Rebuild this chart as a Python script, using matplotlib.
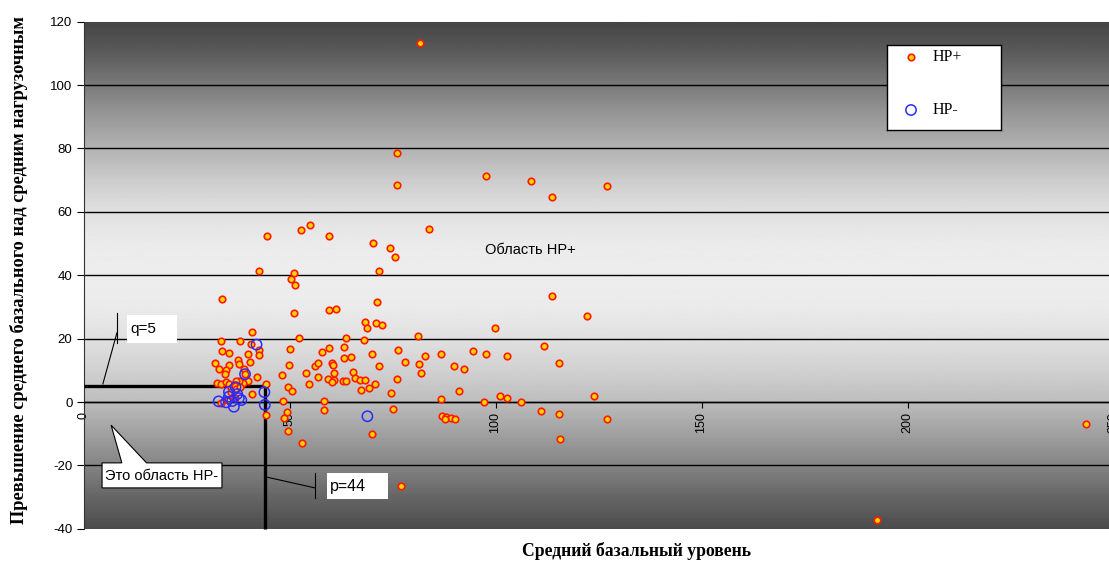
import numpy as np
import matplotlib.pyplot as plt
from matplotlib.patches import Polygon, Rectangle

# HP+ patients: mean basal level (x) and excess of mean basal over mean loaded level (y)
hp_pos_x = [81.6, 76.0, 76.0, 97.6, 108.5, 127.0, 113.6, 83.8, 54.9, 52.8, 44.6, 59.5,
            70.3, 74.4, 75.6, 42.7, 51.1, 50.3, 51.4, 71.7, 33.5, 71.2, 113.6, 51.0,
            59.5, 61.2, 122.1, 68.2, 68.7, 71.0, 72.5, 99.8, 40.9,
            33.3, 37.9, 52.3, 63.6, 68.1, 81.3, 111.7, 40.6,
            42.6, 42.6, 33.7, 35.4, 39.9, 50.1, 59.6, 57.8, 63.2, 69.9, 76.3, 82.8,
            65.0, 63.3, 86.8, 94.6, 97.6, 102.8, 115.5,
            37.5, 37.8, 40.5, 32.0, 35.4, 49.8, 56.1, 57.0, 60.4, 60.6, 71.6, 78.0,
            81.4, 89.9, 92.3,
            32.8, 34.5, 34.4, 39.0, 39.2, 48.1, 54.1, 56.8, 60.8, 65.5, 81.9, 42.1,
            59.3, 60.9, 60.4, 62.9, 63.8, 65.8, 67.0, 68.4, 70.7, 76.1, 54.8, 67.3,
            69.3, 74.6,
            40.0, 38.7, 37.8, 32.3, 33.3, 34.5, 35.3, 35.8, 36.9, 36.7, 37.1, 37.9,
            40.8, 44.3, 49.6, 50.6, 91.1, 35.1, 33.3, 36.7, 35.7,
            48.4, 58.3, 86.7, 97.2, 101.2, 102.7, 106.1, 123.8,
            58.3, 75.1, 49.4, 48.6, 44.2, 111.1, 115.4, 127.0, 87.1, 88.1, 89.2, 90.2,
            87.7, 49.6, 70.1, 53.1, 115.6, 77.1, 192.6, 243.2]
hp_pos_y = [113.2, 78.6, 68.6, 71.4, 69.8, 68.0, 64.8, 54.6, 56.0, 54.3, 52.3, 52.4,
            50.2, 48.5, 45.9, 41.4, 40.7, 38.8, 36.8, 41.4, 32.6, 31.5, 33.6, 28.2,
            28.9, 29.5, 27.0, 25.3, 23.5, 24.8, 24.2, 23.2, 22.2,
            19.2, 19.1, 20.2, 20.3, 19.5, 20.8, 17.6, 18.4,
            16.5, 14.8, 16.0, 15.6, 15.1, 16.8, 17.0, 15.9, 17.2, 15.2, 16.4, 14.4,
            14.3, 13.9, 15.1, 16.1, 15.3, 14.5, 12.2,
            13.4, 12.0, 12.7, 12.4, 11.6, 11.7, 11.4, 12.2, 12.4, 11.7, 11.4, 12.7,
            11.9, 11.4, 10.3,
            10.4, 10.1, 8.7, 10.3, 8.7, 8.5, 9.2, 7.9, 9.2, 9.6, 9.2, 7.8,
            7.3, 6.8, 6.2, 6.6, 6.7, 7.6, 7.1, 7.1, 5.8, 7.4, 5.8, 3.8,
            4.3, 2.7,
            6.7, 6.1, 6.7, 6.1, 5.8, 6.3, 5.8, 4.5, 6.6, 5.2, 4.1, 4.8,
            2.6, 5.7, 4.6, 3.4, 3.6, 0.6, -0.4, 1.2, 3.2,
            0.3, 0.4, 1.0, 0.1, 1.8, 1.4, 0.1, 1.9,
            -2.4, -2.3, -3.0, -5.1, -4.1, -2.8, -3.9, -5.5, -4.4, -4.8, -5.0, -5.4,
            -5.4, -9.3, -10.2, -12.8, -11.7, -26.4, -37.1, -7.0]

# HP- patients
hp_neg_x = [42.0, 39.2, 36.9, 32.8, 35.3, 36.1, 34.6, 36.5, 37.7, 38.3, 37.3, 35.3,
            43.9, 44.0, 68.9]
hp_neg_y = [18.1, 8.8, 4.7, 0.2, 1.7, 0.3, -0.1, -1.5, 1.2, 0.6, 2.5, 3.2,
            3.1, -0.9, -4.5]

# threshold values
q = 5
p = 44

x_ticks = [0, 50, 100, 150, 200, 250]
y_ticks = [-40, -20, 0, 20, 40, 60, 80, 100, 120]

serif = 'Liberation Serif'
sans = 'Liberation Sans'

pos_style = dict(s=22, c='#ffd400', edgecolors='#ff1a00', linewidths=1.2)
neg_style = dict(s=55, facecolors='none', edgecolors='#2b2bff', linewidths=1.1)

fig = plt.figure(figsize=(11.09, 5.61), dpi=100)
ax = fig.add_axes([0.0753, 0.0574, 0.9288, 0.904])
ax.set_xlim(0, 250)
ax.set_ylim(-40, 120)

# vertical grey shading of the plot area
shade_y = [-40, -30, -20, -10, 0, 10, 20, 30, 40, 50, 60, 70, 80, 90, 100, 110, 120]
shade_v = [0.30, 0.40, 0.52, 0.63, 0.74, 0.82, 0.88, 0.92, 0.93, 0.92, 0.88, 0.80,
           0.70, 0.60, 0.48, 0.36, 0.27]
yy = np.linspace(-40, 120, 400)
grad = np.interp(yy, shade_y, shade_v)[:, None]
ax.imshow(grad, extent=[0, 250, -40, 120], origin='lower', aspect='auto',
          cmap='gray', vmin=0, vmax=1, zorder=0)

for yv in y_ticks[1:-1]:
    ax.axhline(yv, color='black', lw=1.0, zorder=1)

# p / q threshold lines
ax.plot([0, p], [q, q], color='black', lw=2.4, solid_capstyle='butt', zorder=3)
ax.plot([p, p], [q, -40], color='black', lw=2.4, solid_capstyle='butt', zorder=3,
        clip_on=False)

ax.scatter(hp_pos_x, hp_pos_y, zorder=4, **pos_style)
ax.scatter(hp_neg_x, hp_neg_y, zorder=5, **neg_style)

# axes styling
for side in ['top', 'right']:
    ax.spines[side].set_visible(False)
ax.spines['bottom'].set_position(('data', 0))
ax.spines['bottom'].set_linewidth(1.0)
ax.spines['left'].set_color('#333333')
ax.set_xticks(x_ticks)
ax.set_xticklabels([str(v) for v in x_ticks], rotation=90, family=sans)
ax.set_yticks(y_ticks)
ax.set_yticklabels([str(v) for v in y_ticks], family=sans)
ax.tick_params(axis='x', direction='out', length=4, pad=3, labelsize=9)
ax.tick_params(axis='y', direction='out', length=5, pad=3, labelsize=9.5)

fig.text(0.017, 0.519, 'Превышение среднего базального над средним нагрузочным',
         rotation=90, ha='center', va='center', family=serif, fontweight='bold',
         fontsize=13.2)
fig.text(0.5735, 0.018, 'Средний базальный уровень', ha='center', va='center',
         family=serif, fontweight='bold', fontsize=12.7)

# q=5 callout
ax.plot([4.7, 8.1], [5.7, 21.8], color='black', lw=0.8, zorder=6, clip_on=False)
ax.plot([8.1, 8.1], [18.6, 28.1], color='black', lw=0.8, zorder=6)
ax.add_patch(Rectangle((10.6, 18.6), 12.1, 8.8, facecolor='white', edgecolor='none',
                       zorder=6))
ax.text(11.3, 23.0, 'q=%d' % q, family=sans, fontsize=11, va='center', ha='left',
        zorder=7)

# p=44 callout
ax.plot([44.5, 56.2], [-23.7, -27.1], color='black', lw=0.8, zorder=6)
ax.plot([56.2, 56.2], [-22.4, -30.3], color='black', lw=0.8, zorder=6)
ax.add_patch(Rectangle((59.1, -30.6), 14.8, 8.2, facecolor='white', edgecolor='none',
                       zorder=6))
ax.text(59.8, -26.5, 'p=%d' % p, family=sans, fontsize=11.5, va='center', ha='left',
        zorder=7)

# speech bubble for the HP- area
bubble = [(4.5, -27.1), (4.5, -19.2), (9.3, -19.2), (6.7, -7.3), (15.3, -19.2),
          (33.6, -19.2), (33.6, -27.1)]
ax.add_patch(Polygon(bubble, closed=True, facecolor='white', edgecolor='black',
                     lw=0.8, zorder=6))
ax.text(5.2, -23.2, 'Это область HP-', family=sans, fontsize=10.5, va='center',
        ha='left', zorder=7)

ax.text(108.4, 47.9, 'Область HP+', family=sans, fontsize=10.5, ha='center',
        va='center', color='black', zorder=7)

# legend box drawn in its own pixel-scaled axes
lax = fig.add_axes([887 / 1109, 1 - 130 / 561, 114 / 1109, 85 / 561])
lax.set_xlim(0, 114)
lax.set_ylim(85, 0)
lax.set_xticks([])
lax.set_yticks([])
lax.set_facecolor('white')
for sp in lax.spines.values():
    sp.set_linewidth(1.0)
    sp.set_color('black')
lax.scatter([24], [12], **pos_style)
lax.scatter([24], [65], **neg_style)
lax.text(46, 12, 'HP+', family=serif, fontsize=11.5, va='center', ha='left')
lax.text(46, 65, 'HP-', family=serif, fontsize=11.5, va='center', ha='left')

fig.savefig('out.png', dpi=100)
